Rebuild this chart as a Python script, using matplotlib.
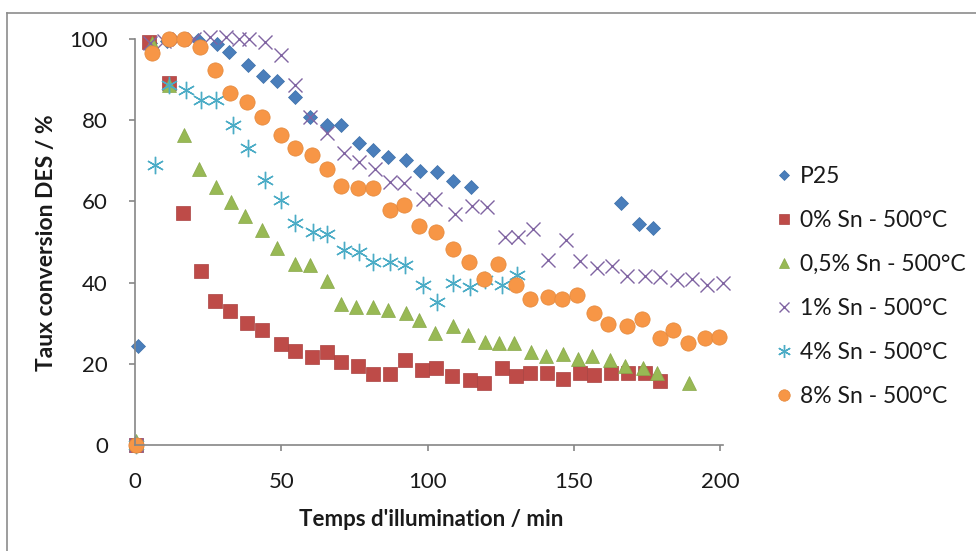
import matplotlib
matplotlib.use('Agg')
import matplotlib.pyplot as plt
from matplotlib.lines import Line2D

plt.rcParams['font.family'] = ['Lato', 'DejaVu Sans']

# Data (time in min, conversion in %)
p25_t = [1, 5, 10.9, 16.4, 21.6, 27.9, 32.3, 38.5, 43.6, 48.4, 54.7, 59.8, 65.5, 70.4,
         76.7, 81.4, 86.6, 92.6, 97.4, 103.2, 108.8, 114.7, 166.3, 172.3, 177.2]
p25_y = [24.3, 99, 99.5, 100, 99.8, 98.8, 96.7, 93.7, 90.9, 89.7, 85.6, 80.9, 78.7, 78.7,
         74.5, 72.7, 70.9, 70.2, 67.6, 67.3, 65.1, 63.6, 59.7, 54.4, 53.4]

sn0_t = [0.5, 4.9, 11.7, 16.5, 22.5, 27.5, 32.5, 38.4, 43.3, 49.8, 54.7, 60.6, 65.5, 70.5,
         76.4, 81.3, 87.2, 92.3, 98.2, 102.9, 108.5, 114.5, 119.4, 125.4, 130.3, 135.1,
         141, 146.2, 152, 157, 162.8, 168.4, 174.2, 179.3]
sn0_y = [0, 99.3, 89.2, 57.1, 42.9, 35.5, 33, 30.1, 28.3, 24.8, 23.2, 21.6, 23, 20.5,
         19.5, 17.4, 17.4, 20.9, 18.5, 18.9, 17, 16, 15.2, 18.9, 17, 17.7,
         17.7, 16.3, 17.7, 17.2, 17.7, 17.7, 17.7, 15.8]

sn05_t = [0.5, 5.9, 11.7, 16.8, 21.9, 27.7, 32.8, 37.6, 43.5, 48.5, 54.7, 59.8, 65.7, 70.5,
          75.5, 81.5, 86.6, 92.5, 97.2, 102.4, 108.6, 113.7, 119.5, 124.5, 129.5, 135.3,
          140.5, 146.3, 151.4, 156.3, 162.3, 167.5, 173.5, 178.4, 189.3]
sn05_y = [1, 98.9, 88.7, 76.4, 68, 63.6, 59.9, 56.5, 53, 48.6, 44.7, 44.3, 40.5, 34.7,
          34.1, 34.1, 33.3, 32.4, 30.9, 27.5, 29.3, 27.1, 25.4, 25.2, 25.2, 23,
          21.8, 22.4, 21.1, 21.8, 20.9, 19.5, 18.9, 17.7, 15.2]

sn1_t = [0.5, 5, 10, 15, 20, 25.6, 31, 35.5, 39, 44.5, 50, 54.7, 59.8, 65.5,
         71.4, 76.7, 82.1, 87.2, 92.1, 98.5, 102.5, 109.4, 115.1, 120.3, 126.4, 131,
         136.2, 141.3, 147.3, 152.2, 157.8, 163, 168.3, 174.3, 179.4, 185.2, 190.3, 195.4, 200.9]
sn1_y = [0, 99, 99.5, 100, 100, 100.5, 100.5, 100, 100, 99.3, 96, 88.7, 80.9, 76.8,
         71.8, 69.8, 67.9, 64.9, 64.6, 60.5, 60.5, 57, 58.9, 58.5, 51.3, 51.3,
         53.2, 45.6, 50.6, 45.2, 43.5, 44.1, 41.6, 41.6, 41.3, 40.6, 41, 39.4, 39.8]

sn4_t = [0.5, 6.8, 11.7, 17.6, 22.5, 27.7, 33.6, 38.5, 44.5, 49.8, 54.7, 60.7, 65.5,
         71.5, 76.5, 81.5, 87.2, 92.3, 98.5, 103.2, 108.6, 114.5, 119.5, 125.4, 130.5]
sn4_y = [0, 68.9, 88.7, 87.4, 85, 85, 78.8, 73.1, 65.3, 60.3, 54.8, 52.5, 52,
         48, 47.6, 45, 45, 44.3, 39.4, 35.3, 39.8, 39, 40.6, 39.4, 41.9]

sn8_t = [0.5, 5.7, 11.6, 16.7, 22.2, 27.5, 32.5, 38.4, 43.3, 49.8, 54.7, 60.6, 65.6,
         70.4, 76.4, 81.4, 87.2, 92.1, 97.1, 102.9, 108.6, 114.3, 119.4, 124.2, 130.3,
         135.1, 141.1, 146.1, 151, 156.9, 161.8, 168.3, 173.3, 179.3, 184, 188.9, 194.9, 199.8]
sn8_y = [0, 96.5, 100, 100, 98.1, 92.4, 86.8, 84.6, 80.7, 76.4, 73.1, 71.4, 67.9,
         63.7, 63.2, 63.2, 57.9, 59.2, 53.9, 52.5, 48.2, 45, 40.9, 44.7, 39.4,
         35.9, 36.5, 35.9, 36.9, 32.6, 29.8, 29.4, 31, 26.3, 28.3, 25.2, 26.3, 26.7]

labels = ['P25', '0% Sn - 500°C', '0,5% Sn - 500°C', '1% Sn - 500°C',
          '4% Sn - 500°C', '8% Sn - 500°C']

fig = plt.figure(figsize=(9.76, 5.51), dpi=100)
ax = fig.add_axes([135 / 976, 1 - 445 / 551, (723 - 135) / 976, (445 - 39) / 551])

# series, in Excel drawing order
ax.plot(p25_t, p25_y, ls='none', marker='D', ms=7.2, color='#4A7EBB',
        mec='#3d6fa8', mew=0.5, clip_on=False, label=labels[0])
ax.plot(sn0_t, sn0_y, ls='none', marker='s', ms=9.6, color='#BE4B48',
        mec='#a94240', mew=0.5, clip_on=False, label=labels[1])
ax.plot(sn05_t, sn05_y, ls='none', marker='^', ms=10.5, color='#98B954',
        mec='#88a84a', mew=0.5, clip_on=False, label=labels[2])
ax.plot(sn1_t, sn1_y, ls='none', marker='x', ms=10.5, color='#8064A2',
        mew=1.0, clip_on=False, label=labels[3])
ax.plot(sn4_t, sn4_y, ls='none', marker=(6, 2, 0), ms=12.5, color='#4BACC6',
        mew=1.0, clip_on=False, label=labels[4])
ax.plot(sn8_t, sn8_y, ls='none', marker='o', ms=11, color='#F79646',
        mec='#e3883c', mew=0.5, clip_on=False, label=labels[5])

ax.set_xlim(0, 201)
ax.set_ylim(0, 100)
ax.set_xticks([0, 50, 100, 150, 200])
ax.set_yticks([0, 20, 40, 60, 80, 100])

for side in ['top', 'right']:
    ax.spines[side].set_visible(False)
for side in ['left', 'bottom']:
    ax.spines[side].set_color('#868686')
    ax.spines[side].set_linewidth(1.2)

ax.tick_params(axis='both', direction='out', length=4.5, width=1.2,
               color='#868686', labelsize=16, labelcolor='#1a1a1a')
ax.tick_params(axis='x', pad=15)
ax.tick_params(axis='y', pad=15)

fig.text(431 / 976, 1 - 520 / 551, "Temps d'illumination / min", ha='center',
         va='center', fontsize=16, fontweight='bold', color='#1a1a1a')
fig.text(47 / 976, 1 - 243 / 551, 'Taux conversion DES / %', rotation=90,
         ha='center', va='center', fontsize=16.5, fontweight='bold', color='#1a1a1a')

ax.legend(loc='upper left', bbox_to_anchor=(776 / 976, 1 - 166 / 551),
          bbox_transform=fig.transFigure, frameon=False, fontsize=16.5,
          handlelength=0.7, handletextpad=0.35, labelspacing=1.0,
          markerscale=0.75, borderaxespad=0, borderpad=0, labelcolor='#1a1a1a')

# chart frame (only left and top edges are visible in the screenshot)
fig.add_artist(Line2D([7 / 976, 7 / 976], [0, 1 - 13 / 551], transform=fig.transFigure,
                      color='#8c8c8c', lw=1.2))
fig.add_artist(Line2D([7 / 976, 1], [1 - 13 / 551, 1 - 13 / 551], transform=fig.transFigure,
                      color='#8c8c8c', lw=1.2))

fig.savefig('out.png', dpi=100)
